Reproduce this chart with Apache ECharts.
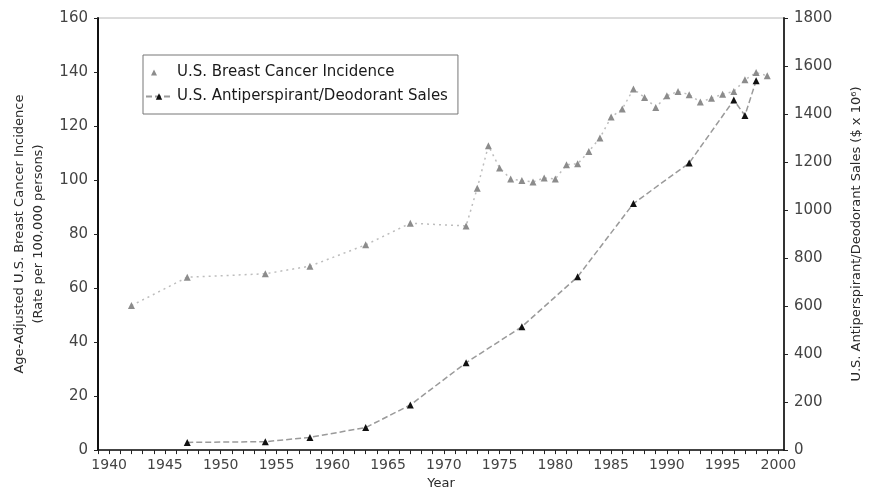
<!DOCTYPE html>
<html>
<head>
<meta charset="utf-8">
<script src="https://cdn.jsdelivr.net/npm/echarts@6/dist/echarts.min.js"></script>
<style>
  html, body { margin: 0; background: #fff; }
  #chart { width: 871px; height: 495px; }
</style>
</head>
<body>
<div id="chart"></div>
<script>
// values
const incidenceYears = [1942, 1947, 1954, 1958, 1963, 1967, 1972, 1973, 1974, 1975, 1976, 1977, 1978, 1979, 1980,
  1981, 1982, 1983, 1984, 1985, 1986, 1987, 1988, 1989, 1990, 1991, 1992, 1993, 1994, 1995, 1996, 1997, 1998, 1999]
const incidenceRates = [53.5, 64, 65.3, 68.1, 76, 84, 83, 97, 112.7, 104.5, 100.4, 99.8, 99.3, 100.8, 100.4,
  105.7, 106, 110.6, 115.6, 123.3, 126.3, 133.7, 130.6, 126.9, 131.2, 132.8, 131.6, 128.9, 130.3, 131.8, 132.8, 137.1, 139.8, 138.6]

const salesYears = [1947, 1954, 1958, 1963, 1967, 1972, 1977, 1982, 1987, 1992, 1996, 1997, 1998]
const salesValues = [32, 35, 53, 94, 188, 364, 514, 722, 1027, 1196, 1458, 1394, 1539]

const incidenceName = 'U.S. Breast Cancer Incidence'
const salesName = 'U.S. Antiperspirant/Deodorant Sales'

const font = 'DejaVu Sans'
const textColor = '#2a2a2a'

// small triangle inside a 26x8 box so the legend does not stretch it
const smallTriangleIcon = 'path://M0 0M26 8M5 7L8 1L11 7Z'

const chart = echarts.init(document.getElementById('chart'))

chart.setOption({
  animation: false,
  backgroundColor: '#fff',
  textStyle: { fontFamily: font },
  grid: {
    left: 98,
    right: 84,
    top: 18,
    bottom: 44,
    show: true,
    borderColor: '#b8b8b8',
    borderWidth: 1,
  },
  legend: {
    orient: 'vertical',
    left: 143,
    top: 55,
    padding: [10, 10, 10, 2],
    itemGap: 9,
    itemWidth: 26,
    itemHeight: 8,
    borderColor: '#777',
    borderWidth: 1,
    backgroundColor: '#fff',
    textStyle: { fontFamily: font, fontSize: 15, color: '#1a1a1a' },
    data: [
      { name: incidenceName, icon: smallTriangleIcon, itemStyle: { color: '#8c8c8c' } },
      { name: salesName },
    ],
  },
  xAxis: {
    type: 'value',
    min: 1939,
    max: 2000.5,
    interval: 1,
    name: 'Year',
    nameLocation: 'middle',
    nameGap: 26,
    nameTextStyle: { fontFamily: font, fontSize: 13, color: textColor },
    axisLine: { lineStyle: { color: '#111', width: 1.5 } },
    axisTick: { length: 4, lineStyle: { color: '#222' } },
    axisLabel: {
      margin: 8,
      fontSize: 14,
      color: '#444',
      showMaxLabel: false,
      formatter: (v) => (v % 5 === 0 ? String(v) : ''),
    },
    splitLine: { show: false },
  },
  yAxis: [
    {
      type: 'value',
      min: 0,
      max: 160,
      interval: 20,
      position: 'left',
      name: 'Age-Adjusted U.S. Breast Cancer Incidence\n(Rate per 100,000 persons)',
      nameLocation: 'middle',
      nameGap: 50,
      nameTextStyle: { fontFamily: font, fontSize: 13, color: textColor, lineHeight: 19 },
      axisLine: { show: true, lineStyle: { color: '#111', width: 2 } },
      axisTick: { show: true, length: 4, lineStyle: { color: '#222' } },
      axisLabel: { margin: 10, fontSize: 15, color: '#444' },
      splitLine: { show: false },
    },
    {
      type: 'value',
      min: 0,
      max: 1800,
      interval: 200,
      position: 'right',
      name: 'U.S. Antiperspirant/Deodorant Sales ($ x 10\u2076)',
      nameLocation: 'middle',
      nameGap: 66,
      nameTextStyle: { fontFamily: font, fontSize: 13, color: textColor },
      axisLine: { show: true, lineStyle: { color: '#333', width: 2 } },
      axisTick: { show: true, length: 4, lineStyle: { color: '#222' } },
      axisLabel: { margin: 10, fontSize: 15, color: '#444', formatter: (v) => String(v) },
      splitLine: { show: false },
    },
  ],
  series: [
    {
      name: incidenceName,
      type: 'line',
      yAxisIndex: 0,
      data: incidenceYears.map((year, i) => [year, incidenceRates[i]]),
      symbol: 'triangle',
      symbolSize: 7,
      itemStyle: { color: '#8c8c8c' },
      lineStyle: { color: '#bdbdbd', width: 1.5, type: [2, 4] },
    },
    {
      name: salesName,
      type: 'line',
      yAxisIndex: 1,
      data: salesYears.map((year, i) => [year, salesValues[i]]),
      symbol: 'triangle',
      symbolSize: 7,
      itemStyle: { color: '#111' },
      lineStyle: { color: '#9a9a9a', width: 1.5, type: [6, 3] },
    },
  ],
})
</script>
</body>
</html>
